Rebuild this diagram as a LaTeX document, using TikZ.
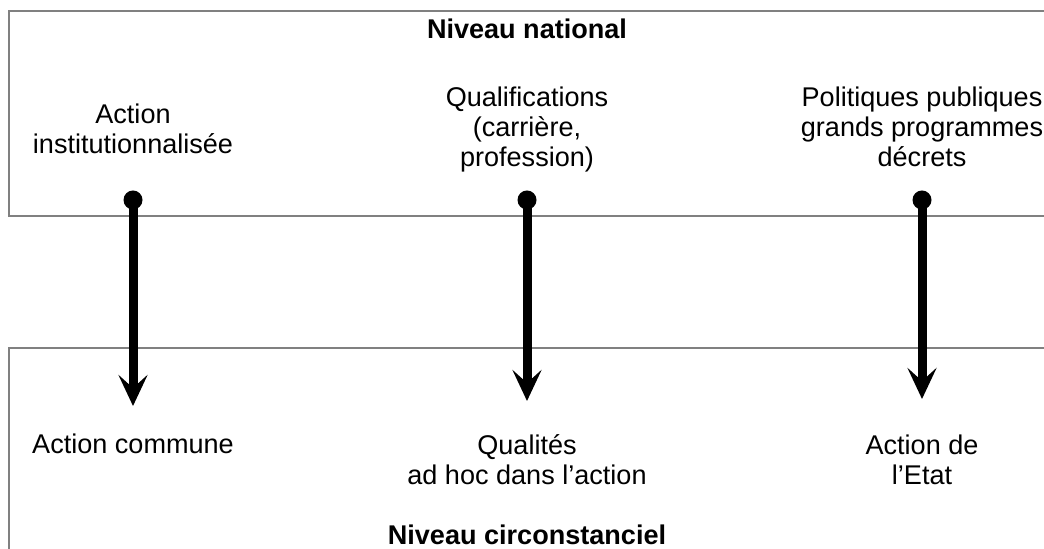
\documentclass[tikz,border=0pt]{standalone}
\usepackage{fontspec}
\setmainfont{Liberation Sans}
\usepackage{tikz}
\usetikzlibrary{arrows.meta}
\usetikzlibrary{positioning}

\begin{document}
\begin{tikzpicture}[
  level/.style={draw=gray,line width=0.6pt},
  label/.style={inner sep=0pt,align=center,anchor=base,font=\fontsize{15.4pt}{17.1pt}\selectfont},
  title/.style={label,font=\fontsize{15.4pt}{17.1pt}\selectfont\bfseries},
  dot/.style={circle,fill=black,inner sep=0pt,minimum size=0.38cm},
  flow/.style={line width=0.18cm,-{Stealth[length=0.62cm,width=0.58cm,inset=0.26cm]}}
]
\useasboundingbox (0,0) rectangle (20.88,10.98);

% the two levels
\draw[level] (20.88,10.76) -- (0.18,10.76) -- (0.18,6.66) -- (20.88,6.66);
\draw[level] (20.88,4.02) -- (0.18,4.02) -- (0.18,0);
\node[title] (national) at (10.54,10.2) {Niveau national};
\node[title] (circ) at (10.54,0.08) {Niveau circonstanciel};

% upper texts (base = last line)
\node[label] (inst) at (2.66,7.9) {Action\\institutionnalisée};
\node[label] (qualif) at (10.54,7.64) {Qualifications\\(carrière,\\profession)};
\node[label] (polit) at (18.44,7.64) {Politiques publiques\\grands programmes\\décrets};

% lower texts
\node[label] (commune) at (2.66,1.9) {Action commune};
\node[label] (qualites) at (10.54,1.28) {Qualités\\ad hoc dans l’action};
\node[label] (etat) at (18.44,1.28) {Action de\\l’Etat};

% arrows
\node[dot] (d1) at (2.66,6.98) {};
\node[dot] (d2) at (10.54,6.98) {};
\node[dot] (d3) at (18.44,6.98) {};
\coordinate (t1) at (2.66,2.86);
\coordinate (t2) at (10.54,2.96);
\coordinate (t3) at (18.44,3.0);
\draw[flow] (d1.center) -- (t1);
\draw[flow] (d2.center) -- (t2);
\draw[flow] (d3.center) -- (t3);
\end{tikzpicture}
\end{document}
